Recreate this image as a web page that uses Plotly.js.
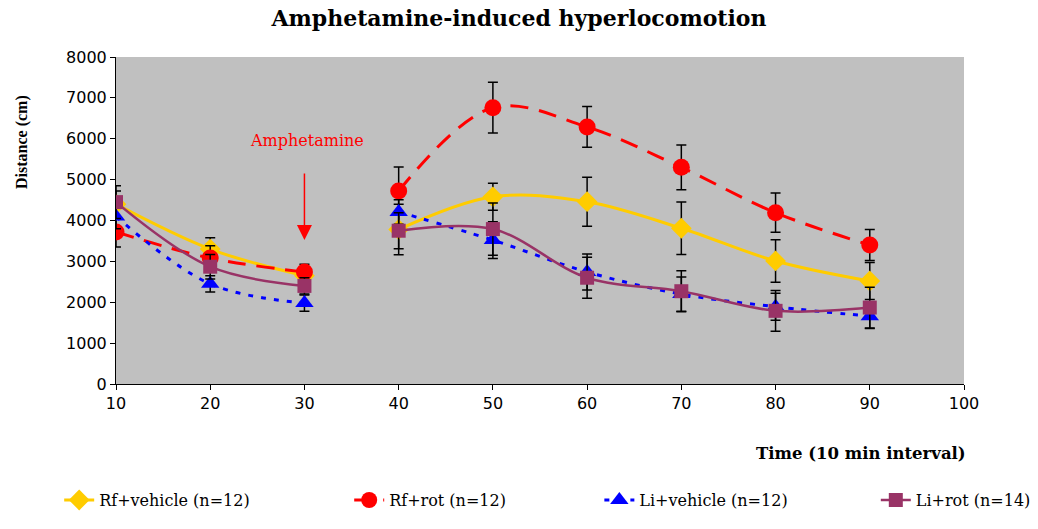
<!DOCTYPE html>
<html>
<head>
<meta charset="utf-8">
<script src="https://cdn.plot.ly/plotly-3.0.1.min.js"></script>
<style>
  html, body { margin: 0; padding: 0; background: #fff; }
  #chart { width: 1038px; height: 529px; }
</style>
</head>
<body>
<div id="chart"></div>
<script>
// ---- Data ----
const time = [10, 20, 30, 40, 50, 60, 70, 80, 90];

const rfVehicle    = [4400, 3300, 2650, 3780, 4580, 4460, 3810, 3010, 2520];
const rfVehicleErr = [320, 280, 200, 620, 330, 600, 640, 520, 450];

const rfRot    = [3720, 3080, 2740, 4720, 6760, 6290, 5300, 4190, 3400];
const rfRotErr = [370, 300, 190, 590, 620, 500, 550, 480, 380];

const liVehicle    = [4100, 2450, 1980, 4210, 3520, 2740, 2200, 1890, 1660];
const liVehicleErr = [300, 200, 200, 300, 450, 440, 420, 330, 300];

const liRot    = [4450, 2870, 2400, 3750, 3790, 2600, 2270, 1790, 1870];
const liRotErr = [400, 300, 200, 440, 640, 500, 500, 500, 500];

const seriesNames = ['Rf+vehicle (n=12)', 'Rf+rot (n=12)', 'Li+vehicle (n=12)', 'Li+rot (n=14)'];
// two recording sessions (before / after amphetamine)
const sessions = [[0, 3], [3, 9]];

const annotationX = 30;
const annotationY = 3520;

// ---- Styles ----
const SERIF_WIDE = 'DejaVu Serif, Liberation Serif, serif';
const SERIF = 'Liberation Serif, Times New Roman, serif';
const SANS = 'DejaVu Sans, Liberation Sans, sans-serif';

const styles = [
  { y: rfVehicle, err: rfVehicleErr, color: '#FFCC00', symbol: 'diamond',     size: 16, dash: 'solid',     width: 3,   legend: 'legend',  lx: -0.067 },
  { y: rfRot,     err: rfRotErr,     color: '#FF0000', symbol: 'circle',      size: 17, dash: '18px,11px', width: 3,   legend: 'legend2', lx: 0.275 },
  { y: liVehicle, err: liVehicleErr, color: '#0000FF', symbol: 'triangle-up', size: 16, dash: '5px,8px',   width: 3,   legend: 'legend3', lx: 0.570 },
  { y: liRot,     err: liRotErr,     color: '#993366', symbol: 'square',      size: 14, dash: 'solid',     width: 2.5, legend: 'legend4', lx: 0.896 }
];

const traces = [];
styles.forEach((s, i) => {
  sessions.forEach((seg, si) => {
    traces.push({
      x: time.slice(seg[0], seg[1]),
      y: s.y.slice(seg[0], seg[1]),
      name: seriesNames[i],
      legendgroup: seriesNames[i],
      legend: s.legend,
      showlegend: si === 0,
      type: 'scatter',
      mode: 'lines+markers',
      line: { color: s.color, width: s.width, dash: s.dash, shape: 'spline', smoothing: 1 },
      marker: { symbol: s.symbol, size: s.size, color: s.color, line: { width: 0 } },
      error_y: { type: 'data', array: s.err.slice(seg[0], seg[1]), visible: true, color: '#000', thickness: 1.5, width: 5 },
      hoverinfo: 'x+y+name'
    });
  });
});

const legendBase = {
  orientation: 'h',
  y: -0.355,
  yanchor: 'middle',
  xanchor: 'left',
  bgcolor: 'rgba(0,0,0,0)',
  borderwidth: 0,
  font: { family: SERIF_WIDE, size: 16, color: '#000' }
};

const layout = {
  width: 1038,
  height: 529,
  paper_bgcolor: '#FFFFFF',
  plot_bgcolor: '#C0C0C0',
  margin: { l: 116, r: 74, t: 57, b: 145, autoexpand: false },
  title: {
    text: '<b>Amphetamine-induced hyperlocomotion</b>',
    font: { family: SERIF_WIDE, size: 22, color: '#000' },
    xref: 'container', x: 0.5, xanchor: 'center',
    yref: 'container', y: 1 - 18 / 529, yanchor: 'middle'
  },
  xaxis: {
    range: [10, 100],
    tick0: 10, dtick: 10,
    showgrid: false, zeroline: false,
    showline: true, linecolor: '#000', linewidth: 1,
    ticks: 'outside', ticklen: 5, tickcolor: '#000',
    tickfont: { family: SANS, size: 16, color: '#000' }
  },
  yaxis: {
    range: [0, 8000],
    tick0: 0, dtick: 1000,
    showgrid: false, zeroline: false,
    showline: true, linecolor: '#000', linewidth: 1,
    ticks: 'outside', ticklen: 5, tickcolor: '#000',
    tickfont: { family: SANS, size: 16, color: '#000' }
  },
  legend:  Object.assign({}, legendBase, { x: styles[0].lx }),
  legend2: Object.assign({}, legendBase, { x: styles[1].lx }),
  legend3: Object.assign({}, legendBase, { x: styles[2].lx }),
  legend4: Object.assign({}, legendBase, { x: styles[3].lx }),
  annotations: [
    {
      x: annotationX, y: annotationY, xref: 'x', yref: 'y',
      text: '', showarrow: true, ax: 0, ay: -68,
      arrowhead: 2, arrowsize: 2, arrowwidth: 1.5, arrowcolor: '#FF0000'
    },
    {
      x: annotationX, xref: 'x', xshift: 3,
      y: (384 - 140) / 327, yref: 'paper', yanchor: 'middle',
      text: 'Amphetamine', showarrow: false,
      font: { family: SERIF_WIDE, size: 16, color: '#FF0000' }
    },
    {
      x: (968 - 116) / 848, xref: 'paper', xanchor: 'right',
      y: (384 - 453) / 327, yref: 'paper', yanchor: 'middle',
      text: '<b>Time (10 min interval)</b>', showarrow: false,
      font: { family: SERIF_WIDE, size: 16.5, color: '#000' }
    },
    {
      x: (22 - 116) / 848, xref: 'paper', xanchor: 'center',
      y: (384 - 142) / 327, yref: 'paper', yanchor: 'middle',
      textangle: -90,
      text: '<b>Distance (cm)</b>', showarrow: false,
      font: { family: SERIF, size: 16, color: '#000' }
    }
  ]
};

Plotly.newPlot('chart', traces, layout, { displayModeBar: false, staticPlot: true });
</script>
</body>
</html>
